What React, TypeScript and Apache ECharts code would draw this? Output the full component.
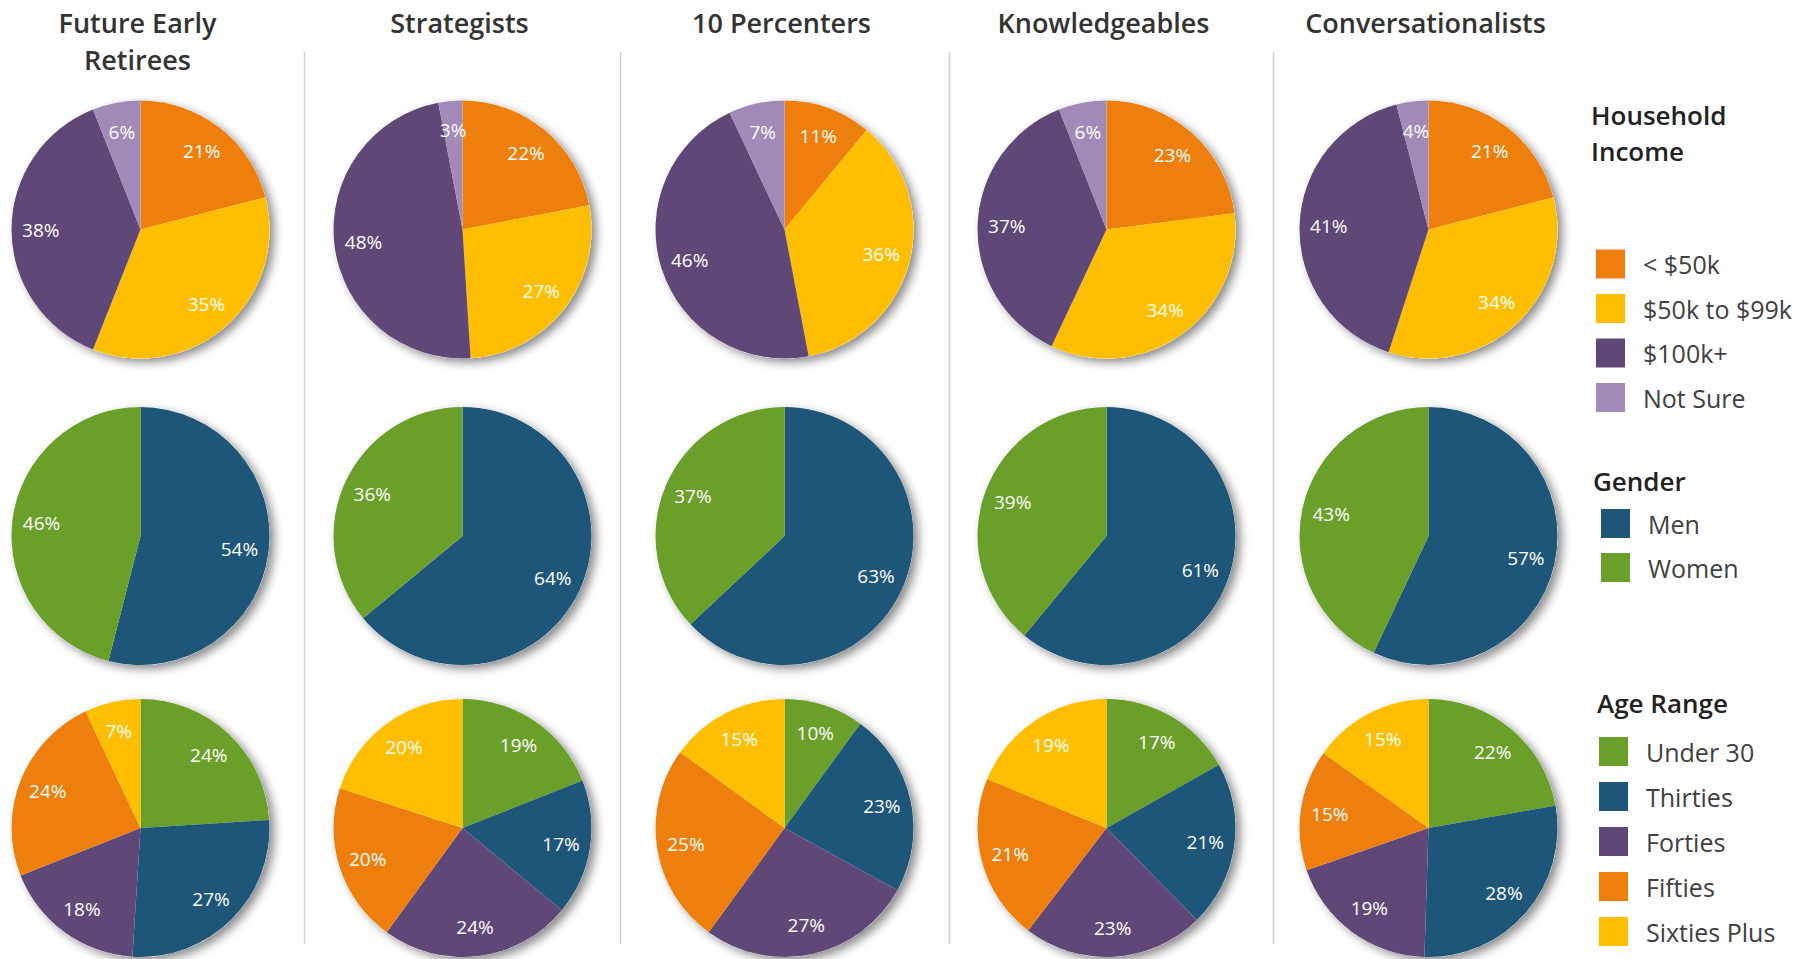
import React, { useEffect, useRef } from "react";
import * as echarts from "echarts";

// ---- data ----
const segmentTitles = ["Future Early\nRetirees", "Strategists", "10 Percenters", "Knowledgeables", "Conversationalists"];

const incomeNames = ["< $50k", "$50k to $99k", "$100k+", "Not Sure"];
const genderNames = ["Men", "Women"];
const ageNames = ["Under 30", "Thirties", "Forties", "Fifties", "Sixties Plus"];

const incomeValues = [
  [21, 35, 38, 6],
  [22, 27, 48, 3],
  [11, 36, 46, 7],
  [23, 34, 37, 6],
  [21, 34, 41, 4],
];
const genderValues = [
  [54, 46],
  [64, 36],
  [63, 37],
  [61, 39],
  [57, 43],
];
const ageValues = [
  [24, 27, 18, 24, 7],
  [19, 17, 24, 20, 20],
  [10, 23, 27, 25, 15],
  [17, 21, 23, 21, 19],
  [22, 28, 19, 15, 15],
];

const legendTitles = ["Household\nIncome", "Gender", "Age Range"];

// ---- styling ----
const incomeColors = ["#EF7F0C", "#FFBF00", "#5F4878", "#A189B8"];
const genderColors = ["#1D5679", "#6A9F29"];
const ageColors = ["#6A9F29", "#1D5679", "#5F4878", "#EF7F0C", "#FFBF00"];

const FONT = "'Open Sans', 'Noto Sans', sans-serif";
const colX = [140.5, 462.5, 784.5, 1106.5, 1428.5];
const rowY = [229.5, 536, 828];
const R = 129;
const sepX = [304.5, 620.5, 949.5, 1273.5];

function pieSeries(names: string[], values: number[], colors: string[], cx: number, cy: number) {
  const center = [cx, cy];
  return [
    {
      type: "pie",
      center,
      radius: [0, R],
      silent: true,
      label: { show: false },
      labelLine: { show: false },
      itemStyle: {
        color: "#ffffff",
        shadowBlur: 10,
        shadowOffsetX: 5,
        shadowOffsetY: 4,
        shadowColor: "rgba(0,0,0,0.45)",
      },
      data: [{ value: 1 }],
      z: 1,
    },
    {
      type: "pie",
      center,
      radius: [0, R],
      startAngle: 90,
      clockwise: true,
      silent: true,
      label: { show: false },
      labelLine: { show: false },
      itemStyle: { borderWidth: 0 },
      data: values.map((v, i) => ({ name: names[i], value: v, itemStyle: { color: colors[i] } })),
      z: 2,
    },
    {
      type: "pie",
      center,
      radius: [R * 0.5, R],
      startAngle: 90,
      clockwise: true,
      silent: true,
      labelLine: { show: false },
      itemStyle: { color: "rgba(0,0,0,0)" },
      label: {
        show: true,
        position: "inside",
        formatter: "{c}%",
        color: "#ffffff",
        fontSize: 19,
        fontFamily: FONT,
      },
      data: values.map((v) => ({ value: v })),
      z: 3,
    },
  ];
}

export default function App() {
  const ref = useRef<HTMLDivElement>(null);
  useEffect(() => {
    document.body.style.margin = "0";
    const chart = echarts.init(ref.current!, undefined, { renderer: "svg" });

    const series: any[] = [];
    for (let c = 0; c < 5; c++) {
      series.push(...pieSeries(incomeNames, incomeValues[c], incomeColors, colX[c], rowY[0]));
      series.push(...pieSeries(genderNames, genderValues[c], genderColors, colX[c], rowY[1]));
      series.push(...pieSeries(ageNames, ageValues[c], ageColors, colX[c], rowY[2]));
    }

    const graphics: any[] = [];
    segmentTitles.forEach((t, c) => {
      graphics.push({
        type: "text",
        x: colX[c] - 3,
        y: c === 0 ? 40.5 : 22,
        style: {
          text: t,
          textAlign: "center",
          textVerticalAlign: "middle",
          fontSize: 27,
          fontWeight: 600,
          fontFamily: FONT,
          lineHeight: 37,
          fill: "#333333",
        },
      });
    });
    sepX.forEach((x) => {
      graphics.push({
        type: "line",
        shape: { x1: x, y1: 52, x2: x, y2: 944 },
        style: { stroke: "#d0d0d0", lineWidth: 1.5 },
      });
    });
    const legTitlePos = [
      [1591, 133],
      [1593, 481],
      [1597, 703],
    ];
    legendTitles.forEach((t, i) => {
      graphics.push({
        type: "text",
        x: legTitlePos[i][0],
        y: legTitlePos[i][1],
        style: {
          text: t,
          textAlign: "left",
          textVerticalAlign: "middle",
          fontSize: 26,
          fontWeight: 600,
          fontFamily: FONT,
          lineHeight: 36,
          fill: "#222222",
        },
      });
    });

    const legendBase = {
      orient: "vertical",
      icon: "rect",
      itemWidth: 29,
      itemHeight: 29,
      padding: 0,
      selectedMode: false,
      textStyle: {
        fontSize: 25,
        fontFamily: FONT,
        color: "#404040",
        padding: [0, 0, 0, 13],
      },
    };

    chart.setOption({
      animation: false,
      backgroundColor: "#ffffff",
      legend: [
        { ...legendBase, data: incomeNames, left: 1596, top: 249.5, itemGap: 15.5 },
        { ...legendBase, data: genderNames, left: 1601, top: 509, itemGap: 15 },
        { ...legendBase, data: ageNames, left: 1599, top: 737, itemGap: 16 },
      ],
      graphic: graphics,
      series,
    });
    return () => chart.dispose();
  }, []);
  return <div ref={ref} style={{ width: 1816, height: 959, overflow: "hidden" }} />;
}
